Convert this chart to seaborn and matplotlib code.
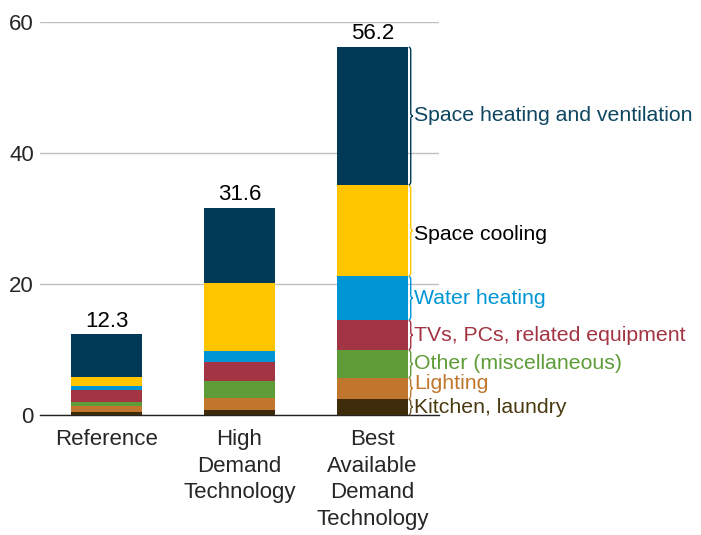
import numpy as np
import pandas as pd
import matplotlib
matplotlib.use("Agg")
import matplotlib.pyplot as plt
from matplotlib.path import Path
from matplotlib.patches import PathPatch
import seaborn as sns

# Data (stack order: bottom -> top)
categories = ["Reference", "High\nDemand\nTechnology", "Best\nAvailable\nDemand\nTechnology"]
series = ["Kitchen, laundry", "Lighting", "Other (miscellaneous)",
          "TVs, PCs, related equipment", "Water heating", "Space cooling",
          "Space heating and ventilation"]
kitchen = [0.46, 0.76, 2.44]
lighting = [0.91, 1.84, 3.26]
other = [0.61, 2.59, 4.22]
tvs = [1.84, 2.90, 4.58]
water = [0.61, 1.68, 6.70]
cooling = [1.33, 10.38, 13.90]
heating = [6.54, 11.45, 21.10]

bar_colors = ["#3d2b0a", "#c0762c", "#5e9c37", "#a33443", "#0096d6", "#ffc600", "#003a56"]
text_colors = ["#4a3a10", "#c0762c", "#5e9c37", "#a33443", "#0096d6", "#000000", "#0e4660"]
label_nudge = [0.0, 0.8, 0.0, 0.0, 0.0, -0.6, 0.0]

layers = [kitchen, lighting, other, tvs, water, cooling, heating]
df = pd.DataFrame(np.array(layers).T, columns=series)
df.insert(0, "category", categories)
cum = df[series].cumsum(axis=1)
totals = cum[series[-1]]

FS = 16
FS_NOTE = 15.3

sns.set_style("white")
plt.rcParams["font.family"] = ["Liberation Sans", "DejaVu Sans"]
plt.rcParams["font.size"] = FS

fig = plt.figure(figsize=(7.01, 5.35), dpi=100)
ax = fig.add_axes([40 / 701, 1 - 415 / 535, 399 / 701, 393 / 535])

bar_w = 0.535
# draw cumulative bars from the top layer down so each layer shows as a stack
for name, color in reversed(list(zip(series, bar_colors))):
    sns.barplot(x=df["category"], y=cum[name], color=color, width=bar_w,
                saturation=1, linewidth=0, edgecolor="none", ax=ax, zorder=3)

# totals above bars
for i, t in enumerate(totals):
    ax.annotate(f"{t:.1f}", (i, t), xytext=(0, 2), textcoords="offset points",
                ha="center", va="bottom", fontsize=FS, color="black")


def brace(ax, x0, y0, y1, w, color):
    ym = (y0 + y1) / 2
    r = min(0.5, (y1 - y0) / 4)
    verts = [(x0, y0), (x0 + w / 2, y0), (x0 + w / 2, y0 + r),
             (x0 + w / 2, ym - r), (x0 + w / 2, ym), (x0 + w, ym),
             (x0 + w / 2, ym), (x0 + w / 2, ym + r),
             (x0 + w / 2, y1 - r), (x0 + w / 2, y1), (x0, y1)]
    codes = [Path.MOVETO, Path.CURVE3, Path.CURVE3, Path.LINETO,
             Path.CURVE3, Path.CURVE3, Path.CURVE3, Path.CURVE3,
             Path.LINETO, Path.CURVE3, Path.CURVE3]
    ax.add_patch(PathPatch(Path(verts, codes), fill=False, edgecolor=color,
                           lw=1.0, clip_on=False, zorder=4))


# braces + labels next to the last bar
last = len(categories) - 1
x0 = last + bar_w / 2 + 0.005
lows = [0.0] + list(cum.iloc[last, :-1])
highs = list(cum.iloc[last])
for k, name in enumerate(series):
    brace(ax, x0, lows[k] + 0.05, highs[k] - 0.05, 0.03, bar_colors[k] if k != 0 else "#6b5a2a")
    ax.text(x0 + 0.038, (lows[k] + highs[k]) / 2 + label_nudge[k], name,
            color=text_colors[k], ha="left", va="center", fontsize=FS_NOTE, clip_on=False)

ax.set_ylim(0, 60)
ax.set_xlim(-0.5, 2.5)
ax.set_yticks([0, 20, 40, 60])
ax.yaxis.grid(True, color="#c0c0c0", lw=1)
ax.set_axisbelow(True)
ax.set_xlabel("")
ax.set_ylabel("")
for s in ["left", "top", "right"]:
    ax.spines[s].set_visible(False)
ax.spines["bottom"].set_color("#222222")
ax.spines["bottom"].set_linewidth(1.0)
ax.tick_params(axis="y", length=0, pad=4.5, labelsize=FS)
ax.tick_params(axis="x", which="major", length=0, pad=10, labelsize=FS)
ax.set_xticks([-0.5, 0.5, 1.5, 2.5], minor=True)
ax.tick_params(axis="x", which="minor", length=6, width=1, color="#222222", direction="out")
for lbl in ax.get_xticklabels():
    lbl.set_linespacing(1.36)

fig.savefig("out.png", dpi=100)
